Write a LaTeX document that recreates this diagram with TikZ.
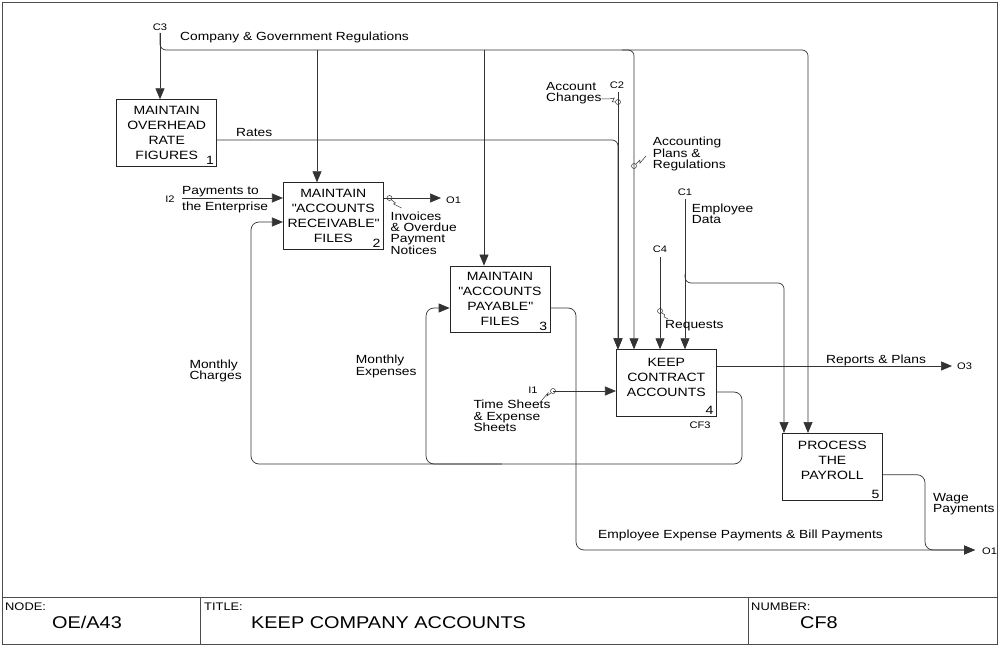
\documentclass[tikz,border=0pt]{standalone}
\usepackage{fontspec}
\setmainfont{Liberation Sans}[FakeStretch=1.17]
\usetikzlibrary{arrows.meta}

\tikzset{
        func/.style={draw=black!85, line width=0.7pt, minimum width=100pt, minimum height=66.7pt, inner sep=0pt},
        ftext/.style={align=center, inner sep=0pt, font=\fontsize{12}{15}\selectfont},
        boxno/.style={anchor=south east, inner xsep=3pt, inner ysep=2pt, font=\fontsize{12}{12}\selectfont},
        flow/.style={draw=black!80, line width=0.7pt},
        arr/.style={flow, -{Triangle[length=11pt,width=9pt]}},
        lbl/.style={inner sep=0pt, font=\fontsize{11.8}{11.6}\selectfont},
        icom/.style={inner sep=0pt, font=\fontsize{9.5}{10}\selectfont},
        tunnel/.style={circle, draw=black!80, line width=0.5pt, minimum size=5pt, inner sep=0pt},
        squig/.style={draw=black!80, line width=0.5pt},
        sheetline/.style={draw=black!70, line width=0.8pt},
        sheethead/.style={anchor=base west, inner sep=0pt, font=\fontsize{11}{11}\selectfont},
        sheettext/.style={inner sep=0pt, font=\fontsize{17}{17}\selectfont},
}

\begin{document}
\begin{tikzpicture}[x=1pt, y=-1pt]
        \useasboundingbox (0,0) rectangle (1000,647);

        % the five functions
        \node[func] (b1) at (166.7,133) {};
        \node[ftext] (t1) at (b1) {MAINTAIN\\OVERHEAD\\RATE\\FIGURES};
        \node[boxno] (n1) at (b1.south east) {1};
        \node[func] (b2) at (333.3,216) {};
        \node[ftext] (t2) at (b2) {MAINTAIN\\\textquotedbl ACCOUNTS\\RECEIVABLE\textquotedbl\\FILES};
        \node[boxno] (n2) at (b2.south east) {2};
        \node[func] (b3) at (500,299.3) {};
        \node[ftext] (t3) at (b3) {MAINTAIN\\\textquotedbl ACCOUNTS\\PAYABLE\textquotedbl\\FILES};
        \node[boxno] (n3) at (b3.south east) {3};
        \node[func] (b4) at (666.3,383) {};
        \node[ftext] (t4) at ([yshift=5.5pt]b4.center) {KEEP\\CONTRACT\\ACCOUNTS};
        \node[boxno] (n4) at (b4.south east) {4};
        \node[icom] (cf3) at (700,425) {CF3};
        \node[func] (b5) at (832.3,466.7) {};
        \node[ftext] (t5) at ([yshift=6pt]b5.center) {PROCESS\\THE\\PAYROLL};
        \node[boxno] (n5) at (b5.south east) {5};

        % boundary arrows and bends
        \coordinate (c3) at (160,33);
        \coordinate (c2) at (618,92);
        \coordinate (c1) at (685,199);
        \coordinate (c4) at (660,257);
        \coordinate (i2) at (182,198);
        \coordinate (i1) at (553,391);
        \coordinate (o1a) at (441,198);
        \coordinate (o3) at (952,366);
        \coordinate (o1b) at (975,550);
        \coordinate (regs) at (808,50);
        \coordinate (r2) at (317,50);
        \coordinate (r3) at (484,50);
        \coordinate (r4) at (634,50);
        \coordinate (ed) at (784,283);
        \coordinate (loop) at (742,464);
        \coordinate (mc) at (251,222);
        \coordinate (me) at (426,308);
        \coordinate (pay) at (576,550);
        \coordinate (wage) at (925,550);

        % controls
        \draw[arr] (c3) -- (c3 |- b1.north);
        \draw[arr, rounded corners=6pt] (c3) |- (regs) -- (regs |- b5.north);
        \draw[arr] (r2) -- (r2 |- b2.north);
        \draw[arr] (r3) -- (r3 |- b3.north);
        \draw[arr, rounded corners=6pt] (r4) ++(-12,0) -| (r4 |- b4.north);
        \draw[arr, rounded corners=6pt] ([yshift=-7pt]b1.east) -| (c2 |- b4.north);
        \draw[arr] (c2) -- (c2 |- b4.north);
        \draw[arr] (c4) -- (c4 |- b4.north);
        \draw[arr] (c1) -- (c1 |- b4.north);
        \draw[arr, rounded corners=6pt] (c1) ++(0,75) |- (ed) -- (ed |- b5.north);

        % inputs and outputs
        \draw[arr] (i2) -- (i2 -| b2.west);
        \draw[arr] (b2.east |- o1a) -- (o1a);
        \draw[arr] (b4.east |- o3) -- (o3);
        \draw[arr] (i1) -- (i1 -| b4.west);
        \draw[arr, rounded corners=8pt] ([yshift=-9pt]b4.east) -| (loop) -| (mc) -- (mc -| b2.west);
        \draw[arr, rounded corners=8pt] (loop) ++(-240,0) -| (me) -- (me -| b3.west);
        \draw[arr, rounded corners=8pt] (b3.east |- me) -| (pay) -- (o1b);
        \draw[arr, rounded corners=8pt] ([yshift=-8pt]b5.east) -| (wage) -- (o1b);

        % tunnels
        \node[tunnel] (tc2) at (618,102) {};
        \draw[squig] (tc2.west) -- ++(-3,0) -- ++(2,-4) -- ++(-5,1) -- ++(-8,0);
        \node[tunnel] (tac) at (634,166) {};
        \draw[squig] (tac.north east) -- ++(4,-4) -- ++(0,3) -- ++(6,-7);
        \node[tunnel] (trq) at (660,311) {};
        \draw[squig] (trq.south east) -- ++(3,2) -- ++(-1,2) -- ++(4,2);
        \node[tunnel] (tinv) at (389.5,198) {};
        \draw[squig] (tinv.south east) -- ++(4,3) -- ++(-2,1) -- ++(8,4);
        \node[tunnel] (ti1) at (i1) {};
        \draw[squig] (ti1.south west) -- ++(-4,3) -- ++(1,-3) -- ++(-6,7);

        % labels
        \node[icom] (c3l) at (160,27) {C3};
        \node[lbl, anchor=base west] (regl) at (180,41) {Company \& Government Regulations};
        \node[lbl, anchor=base west] (ratel) at (236,137) {Rates};
        \node[icom] (i2l) at (170,199) {I2};
        \node[lbl, align=left, anchor=north west, font=\fontsize{11.8}{16}\selectfont] (payl) at (182,186) {Payments to\\the Enterprise};
        \node[icom, anchor=west] (o1al) at (446,200.5) {O1};
        \node[lbl, align=left, anchor=north west, font=\fontsize{11.8}{11.2}\selectfont] (invl) at (390.5,211.7) {Invoices\\\& Overdue\\Payment\\Notices};
        \node[lbl, align=left, anchor=north west] (acl) at (546,82) {Account\\Changes};
        \node[icom] (c2l) at (617,85) {C2};
        \node[lbl, align=left, anchor=north west] (apl) at (652.7,136.7) {Accounting\\Plans \&\\Regulations};
        \node[icom] (c1l) at (685,192) {C1};
        \node[lbl, align=left, anchor=north west] (edl) at (691.7,203.3) {Employee\\Data};
        \node[icom] (c4l) at (660,249.5) {C4};
        \node[lbl, anchor=base west] (rql) at (665,328) {Requests};
        \node[lbl, anchor=base west] (rpl) at (826,363) {Reports \& Plans};
        \node[icom, anchor=west] (o3l) at (957,366.5) {O3};
        \node[lbl, align=left, anchor=north west] (mcl) at (189.3,359.3) {Monthly\\Charges};
        \node[lbl, align=left, anchor=north west] (mel) at (355.7,355) {Monthly\\Expenses};
        \node[icom] (i1l) at (533,390) {I1};
        \node[lbl, align=left, anchor=north west] (tsl) at (473.3,400) {Time Sheets\\\& Expense\\Sheets};
        \node[lbl, anchor=base west] (epl) at (598,538) {Employee Expense Payments \& Bill Payments};
        \node[lbl, align=left, anchor=north west] (wpl) at (933,492.7) {Wage\\Payments};
        \node[icom, anchor=west] (o1bl) at (982,551) {O1};

        % sheet frame
        \draw[sheetline] (2,2) rectangle (997,644);
        \draw[sheetline] (2,597) -- (997,597);
        \draw[sheetline] (200,597) -- (200,644);
        \draw[sheetline] (748,597) -- (748,644);
        \node[sheethead] (nodeh) at (5,610) {NODE:};
        \node[sheettext, anchor=base] (nodev) at (87,628) {OE/A43};
        \node[sheethead] (titleh) at (204,610) {TITLE:};
        \node[sheettext, anchor=base west] (titlev) at (251,628) {KEEP COMPANY ACCOUNTS};
        \node[sheethead] (numh) at (751,610) {NUMBER:};
        \node[sheettext, anchor=base] (numv) at (819,628) {CF8};
\end{tikzpicture}
\end{document}
